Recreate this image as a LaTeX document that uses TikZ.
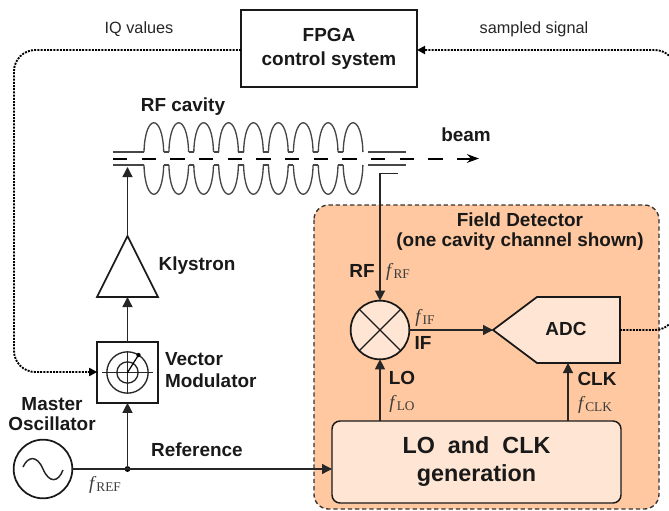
\documentclass[tikz,border=0pt]{standalone}
\usepackage{fontspec}
\setmainfont{Liberation Sans}
\newfontfamily\freqfont{Liberation Serif}
\usetikzlibrary{arrows.meta}

\definecolor{fdfill}{RGB}{255,200,160}
\definecolor{fdlight}{RGB}{255,229,211}
\definecolor{cavline}{RGB}{70,70,70}
\definecolor{freqtext}{RGB}{60,60,60}

\newcommand{\freqlabel}[1]{{\freqfont\fontsize{14}{15}\selectfont\textit{f}\raisebox{-0.25ex}{\fontsize{10}{11}\selectfont #1}}}

\begin{document}
\begin{tikzpicture}[
  x=0.75pt,
  y=-0.75pt,
  every node/.style={inner sep=0pt, outer sep=0pt},
  label/.style={font=\bfseries\fontsize{14.2}{15}\selectfont, text=black!90, align=center},
  leftlabel/.style={label, anchor=west, align=left, font=\bfseries\fontsize{14.2}{16.5}\selectfont},
  boxlabel/.style={label, font=\bfseries\fontsize{14.2}{18}\selectfont},
  biglabel/.style={label, font=\bfseries\fontsize{17.5}{21}\selectfont},
  smalllabel/.style={font=\fontsize{12.2}{14}\selectfont, text=black!85, align=center},
  freq/.style={text=freqtext},
  block/.style={draw=black!90, line width=1.3pt},
  whitebox/.style={block, fill=white, minimum width=132pt, minimum height=57.75pt},
  lightcircle/.style={circle, draw=black!90, line width=1.3pt, minimum size=44pt},
  lobox/.style={draw=black!90, line width=1.1pt, fill=fdlight, rounded corners=6pt, minimum width=216.75pt, minimum height=61.5pt},
  cavity/.style={draw=cavline, line width=1pt},
  flow/.style={draw=black!85, line width=1pt, -{Triangle[length=7.5pt, width=7.5pt]}},
  sigflow/.style={draw=black, line width=1.4pt, dash pattern=on 1.5pt off 0.9pt, -{Triangle[length=6pt, width=6pt]}}
]

  \useasboundingbox (0,0) rectangle (669,511);

  % Field detector background
  \draw[fill=fdfill, draw=black!80, line width=1pt, dash pattern=on 3.2pt off 2.2pt, rounded corners=11pt] (314,205) rectangle (659,509);
  \node[label] (fdtitle) at (520,232) {Field Detector\\(one cavity channel shown)};

  % Top box and feedback lines
  \node[whitebox, boxlabel] (fpga) at (329,48.5) {FPGA\\control system};
  \node[smalllabel] (iq) at (139,29) {IQ values};
  \node[smalllabel] (sampled) at (534,29) {sampled signal};

  % RF cavity
  \node[label] (cavname) at (183,107) {RF cavity};
  \foreach \n in {0,...,8} {
    \pgfmathsetmacro{\xa}{144+24.9*\n}
    \pgfmathsetmacro{\xb}{\xa+19.7}
    \draw[cavity] (\xa,152) .. controls (\xa+1,113) and (\xb-1,113) .. (\xb,152);
    \draw[cavity] (\xa,165) .. controls (\xa+1,204) and (\xb-1,204) .. (\xb,165);
  }
  \foreach \n in {0,...,7} {
    \pgfmathsetmacro{\xb}{144+24.9*\n+19.7}
    \draw[cavity] (\xb,152) -- (\xb+5.2,152);
    \draw[cavity] (\xb,165) -- (\xb+5.2,165);
  }
  \draw[cavity] (113,152) -- (144,152);
  \draw[cavity] (368,152) -- (406,152);
  \draw[cavity] (113,165) -- (144,165);
  \draw[cavity] (368,165) -- (406,165);
  \draw[black, line width=1.5pt, dash pattern=on 10.7pt off 10.8pt, -{Stealth[length=9pt, width=6.5pt]}] (113,158.5) -- (479,158.5);
  \node[label] (beam) at (466,135) {beam};
  \coordinate (cavin) at (127.5,167);
  \coordinate (pickup) at (398,173.5);

  % Drive chain
  \node[block, fill=white, minimum size=45.5pt] (vm) at (127.5,372.5) {};
  \draw[black!85, line width=1pt] (vm.center) circle (15.5pt) (vm.center) circle (8pt);
  \draw[black!85, line width=0.9pt] (102,372.5) -- (153,372.5) (127.5,351) -- (127.5,394);
  \draw[black, line width=0.9pt] (vm.center) -- (138.5,355);
  \fill[black] (138.5,355) circle (1.6pt);
  \node[leftlabel] (vmname) at (165,370) {Vector\\Modulator};

  \draw[block] (127.5,236) coordinate (klyapex) -- (158,297) -- (97,297) -- cycle;
  \coordinate (klybase) at (127.5,297);
  \node[label] (klyname) at (197,266) {Klystron};

  \node[lightcircle] (mo) at (43,469) {};
  \draw[black!85, line width=1.1pt] (23,467) .. controls (28,456) and (37,455) .. (43,469)
    .. controls (49,483) and (58,483) .. (63,470);
  \node[label] (moname) at (52,414) {Master\\Oscillator};
  \node[label] (refname) at (197,450) {Reference};
  \node[freq] (fref) at (105,485) {\freqlabel{REF}};

  \coordinate (junction) at (127.5,469);
  \fill[black] (junction) circle (2.2pt);

  % Detector blocks
  \node[lightcircle, fill=fdlight] (mixer) at (380,330) {};
  \draw[black!90, line width=1pt] (mixer.45) -- (mixer.225) (mixer.135) -- (mixer.315);
  \draw[block, fill=fdlight] (493,330) coordinate (adctip) -- (537,297) -- (620,297) -- (620,363) -- (537,363) -- cycle;
  \coordinate (adcout) at (620,330);
  \coordinate (adcclk) at (568,363);
  \node[label] (adc) at (566,329) {ADC};
  \node[lobox, biglabel] (logen) at (476.5,462) {LO~ and~ CLK\\generation};

  \node[label] (rfname) at (362,271) {RF};
  \node[freq] (frf) at (398,272) {\freqlabel{RF}};
  \node[freq] (fif) at (425,318) {\freqlabel{IF}};
  \node[label] (ifname) at (423,343) {IF};
  \node[label] (loname) at (402,378) {LO};
  \node[freq] (flo) at (402,404) {\freqlabel{LO}};
  \node[label] (clkname) at (597,379) {CLK};
  \node[freq] (fclk) at (595,405) {\freqlabel{CLK}};

  % Connectors
  \draw[sigflow, rounded corners=16pt] (fpga.west |- 0,50) -- (14,50) -- (14,372) -- (vm.west |- 0,372);
  \draw[sigflow, rounded corners=16pt] (adcout) -- (676,330) -- (676,50) -- (fpga.east |- 0,50);
  \draw[flow] (klyapex) -- (cavin);
  \draw[flow] (vm.north) -- (klybase);
  \draw[flow] (junction) -- (vm.south);
  \draw[flow] (mo.east) -- (logen.west |- mo.east);
  \draw[flow] (pickup) -- (380,173.5) -- (mixer.north);
  \draw[flow] (mixer.east) -- (adctip);
  \draw[flow] (logen.north -| mixer.south) -- (mixer.south);
  \draw[flow] (logen.north -| adcclk) -- (adcclk);

\end{tikzpicture}
\end{document}
